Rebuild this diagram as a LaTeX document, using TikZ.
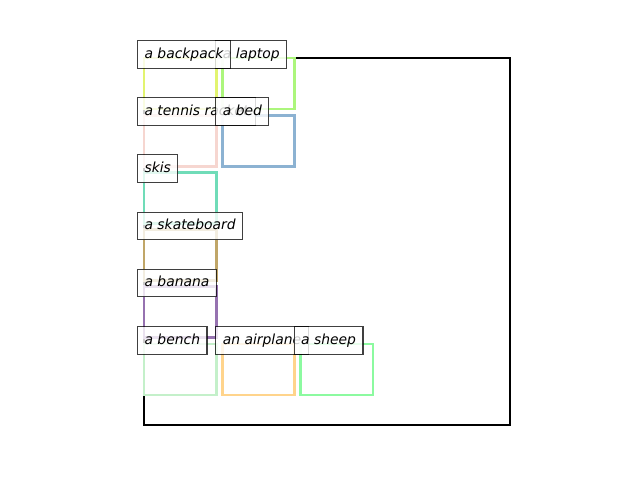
\documentclass[tikz,border=0pt]{standalone}
\usepackage{fontspec}
\setmainfont{DejaVu Sans}
\definecolor{backpackclr}{RGB}{226,244,112}
\definecolor{laptopclr}{RGB}{172,246,124}
\definecolor{racketclr}{RGB}{246,214,208}
\definecolor{bedclr}{RGB}{140,178,210}
\definecolor{skisclr}{RGB}{112,220,184}
\definecolor{skateclr}{RGB}{192,166,104}
\definecolor{bananaclr}{RGB}{150,114,176}
\definecolor{benchclr}{RGB}{196,240,202}
\definecolor{planeclr}{RGB}{255,212,140}
\definecolor{sheepclr}{RGB}{140,250,160}
\tikzset{
	objbox/.style={line width=2pt},
	tag/.style={anchor=base west, xshift=-5pt, inner sep=5pt, text height=7.6pt, text depth=2.3pt,
		draw=black, draw opacity=0.75, fill=white, fill opacity=0.8, text opacity=1, line width=0.8pt,
		font=\itshape\fontsize{10}{12}\selectfont}
}
\begin{document}
\begin{tikzpicture}[x=0.72pt,y=-0.72pt]
			\useasboundingbox (0,0) rectangle (640,480);
			%Image frame
			\draw[line width=1.7pt] (144,58) rectangle (510,425);
			%Object boxes
			\foreach \x/\y/\c in {144/58/backpackclr, 222.3/58/laptopclr, 144/115.2/racketclr, 222.3/115.2/bedclr,
				144/172.4/skisclr, 144/229.6/skateclr, 144/286.8/bananaclr,
				144/344/benchclr, 222.3/344/planeclr, 300.6/344/sheepclr}
			{\draw[objbox,draw=\c] (\x,\y) rectangle ++(72.5,51);}
			%Labels
			\node[tag] (laptop) at (222.3,58) {a laptop};
			\node[tag] (backpack) at (144,58) {a backpack};
			\node[tag] (racket) at (144,115.2) {a tennis racket};
			\node[tag] (bed) at (222.3,115.2) {a bed};
			\node[tag] (skis) at (144,172.4) {skis};
			\node[tag] (skateboard) at (144,229.6) {a skateboard};
			\node[tag] (banana) at (144,286.8) {a banana};
			\node[tag] (bench) at (144,344) {a bench};
			\node[tag] (airplane) at (222.3,344) {an airplane};
			\node[tag] (sheep) at (300.6,344) {a sheep};
			\end{tikzpicture}
\end{document}
